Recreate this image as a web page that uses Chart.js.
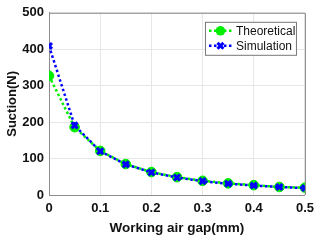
<!DOCTYPE html>
<html><head><meta charset="utf-8">
<script src="https://cdn.jsdelivr.net/npm/chart.js@4/dist/chart.umd.min.js"></script>
<style>html,body{margin:0;padding:0;background:#fff}#wrap{width:320px;height:240px;position:relative}</style>
</head><body><div id="wrap"><canvas id="c" width="320" height="240"></canvas></div>
<script>
const gaps = [0, 0.05, 0.1, 0.15, 0.2, 0.25, 0.3, 0.35, 0.4, 0.45, 0.5];
const theoretical = [327, 186, 121, 85, 63, 49, 39, 32, 27, 22, 20];
const simulation = [409, 191, 120, 84, 62, 48, 38, 31, 26, 22, 19];
const seriesNames = ['Theoretical', 'Simulation'];
const xTitle = 'Working air gap(mm)';
const yTitle = 'Suction(N)';

const FONT = 'Liberation Sans, Arial, sans-serif';
const GREEN = '#00ee00', BLUE = '#0000ff', AXIS = '#8c8c8c';

const boxPlugin = {
  id: 'boxLegend',
  afterDraw(chart) {
    const ctx = chart.ctx, a = chart.chartArea;
    ctx.save();
    ctx.strokeStyle = AXIS; ctx.lineWidth = 1;
    ctx.beginPath();
    ctx.moveTo(a.left, a.top + 0.5); ctx.lineTo(a.right + 0.5, a.top + 0.5);
    ctx.lineTo(a.right + 0.5, a.bottom);
    ctx.stroke();
    // legend
    const lx = a.right - 100, ly = a.top + 9, lw = 91, lh = 33;
    ctx.fillStyle = '#fff'; ctx.fillRect(lx, ly, lw, lh);
    ctx.strokeStyle = '#777'; ctx.strokeRect(lx + 0.5, ly + 0.5, lw, lh);
    const ds = chart.data.datasets;
    ds.forEach((d, i) => {
      const y = ly + 9 + i * 15;
      ctx.strokeStyle = d.borderColor; ctx.lineWidth = 2.5; ctx.setLineDash([2.5, 2.5]);
      ctx.beginPath(); ctx.moveTo(lx + 4, y); ctx.lineTo(lx + 27, y); ctx.stroke();
      ctx.setLineDash([]);
      if (d.pointStyle === 'circle') { ctx.fillStyle = d.pointBackgroundColor; ctx.beginPath(); ctx.arc(lx+15.5, y, d.pointRadius, 0, Math.PI*2); ctx.fill(); }
      else { ctx.strokeStyle = d.pointBorderColor; ctx.lineWidth = d.pointBorderWidth; Chart.helpers.drawPoint(ctx, {pointStyle: d.pointStyle, radius: d.pointRadius, borderWidth: d.pointBorderWidth, rotation: 0}, lx + 15.5, y); }
      ctx.fillStyle = '#111'; ctx.font = '12px ' + FONT; ctx.textBaseline = 'middle'; ctx.textAlign = 'left';
      ctx.fillText(d.label, lx + 31, y + 0.5);
    });
    ctx.restore();
  }
};

new Chart(document.getElementById('c'), {
  type: 'line',
  data: {
    datasets: [
      { label: seriesNames[0], data: gaps.map((x, i) => ({x, y: theoretical[i]})),
        borderColor: GREEN, backgroundColor: GREEN, borderWidth: 2.5, borderDash: [2.5, 2.5],
        pointStyle: 'circle', pointRadius: 4.8, pointBackgroundColor: GREEN, pointBorderColor: GREEN, pointBorderWidth: 1,
        tension: 0, order: 1 },
      { label: seriesNames[1], data: gaps.map((x, i) => ({x, y: simulation[i]})),
        borderColor: BLUE, backgroundColor: BLUE, borderWidth: 2.5, borderDash: [2.5, 2.5],
        pointStyle: 'crossRot', pointRadius: 4.2, pointBackgroundColor: BLUE, pointBorderColor: BLUE, pointBorderWidth: 3,
        tension: 0, order: 0 }
    ]
  },
  options: {
    responsive: false, animation: false, devicePixelRatio: 1,
    layout: { padding: { left: 0, right: 14, top: 9, bottom: 0 } },
    plugins: { legend: { display: false }, tooltip: { enabled: false } },
    scales: {
      x: { type: 'linear', min: 0, max: 0.5,
        ticks: { stepSize: 0.1, color: '#111', font: { family: FONT, size: 13, weight: 'bold' }, padding: 6, maxRotation: 0,
          callback: v => (Math.round(v * 10) / 10).toString() },
        grid: { color: '#e6e6e6', tickLength: 0 }, border: { color: AXIS, width: 1 },
        title: { display: true, text: xTitle, color: '#111', font: { family: FONT, size: 13.5, weight: 'bold' }, padding: { top: 3, bottom: 4 } },
        afterFit(s) { s.height = 45; } },
      y: { min: 0, max: 500,
        ticks: { stepSize: 100, color: '#111', font: { family: FONT, size: 13, weight: 'bold' }, padding: 5 },
        grid: { color: '#e6e6e6', tickLength: 0 }, border: { color: AXIS, width: 1 },
        title: { display: true, text: yTitle, color: '#111', font: { family: FONT, size: 13, weight: 'bold' }, padding: { top: 5, bottom: 2 } },
        afterFit(s) { s.width = 49; } }
    }
  },
  plugins: [boxPlugin]
});
</script></body></html>
